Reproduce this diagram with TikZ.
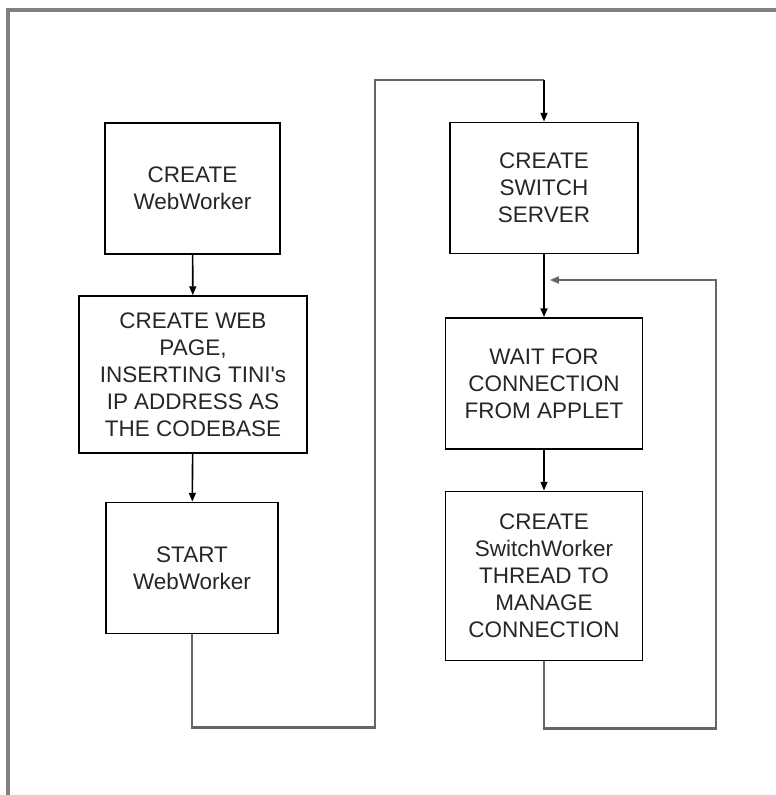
\documentclass[tikz,border=0pt]{standalone}
\usepackage{fontspec}
\setmainfont{Liberation Sans}
\usepackage{tikz}
\usetikzlibrary{arrows.meta, calc}
\tikzset{%
    stepbox/.style={%
        rectangle,
        draw=black, line width=1.1pt,
        fill=white,
        inner sep=0pt,
        align=center,
        text=black!85,
        font=\fontsize{12.8}{15.3}\selectfont,
        minimum height=2.62cm,
    },
    edge/.style={%
        draw=black, line width=0.9pt,
        -{Triangle[length=5pt, width=4pt]},
    },
    loopline/.style={%
        draw=black!60, line width=1.7pt,
    },
    frame/.style={%
        draw=black!50, line width=2.3pt,
    },
}

\begin{document}
\begin{tikzpicture}[x=0.02cm, y=-0.02cm]
	\useasboundingbox (0,0) rectangle (776,795);
	% \draw[help lines] (0,0) grid (776,795);
	\draw[frame] (8,795) -- (8,10) -- (776,10);

	% left column
	\node [stepbox, minimum width=3.5cm] at (192.5,188.5) (mkweb) {CREATE\\WebWorker};
	\node [stepbox, minimum width=4.56cm, minimum height=3.14cm] at (193,374.5) (mkpage) {CREATE WEB\\PAGE,\\INSERTING TINI\textquotesingle s\\IP ADDRESS AS\\THE CODEBASE};
	\node [stepbox, minimum width=3.44cm] at (192,568) (startweb) {START\\WebWorker};

	% right column
	\node [stepbox, minimum width=3.76cm] at (544,188) (mkserver) {CREATE\\SWITCH\\SERVER};
	\node [stepbox, minimum width=3.94cm] at (544,383.5) (waitconn) {WAIT FOR\\CONNECTION\\FROM APPLET};
	\node [stepbox, minimum width=3.94cm, minimum height=3.38cm] at (544,576) (mkworker) {CREATE\\SwitchWorker\\THREAD TO\\MANAGE\\CONNECTION};

	\coordinate (jump_low) at (375,727);
	\coordinate (jump_high) at (375,80);
	\coordinate (loop_low) at (716,728);
	\coordinate (loop_high) at (716,280);
	\coordinate (loop_in) at (550,280);

	\draw[edge] (mkweb) -- (mkpage);
	\draw[edge] (mkpage) -- (startweb);
	\draw[edge] (mkserver) -- (waitconn);
	\draw[edge] (waitconn) -- (mkworker);

	\draw[loopline] (startweb.south) -- (startweb.south |- jump_low) -- (jump_low) -- (jump_high) -- (jump_high -| mkserver.north);
	\draw[edge] (jump_high -| mkserver.north) -- (mkserver.north);

	\draw[loopline] (mkworker.south) -- (mkworker.south |- loop_low) -- (loop_low) -- (loop_high) -- ($(loop_in)+(8,0)$);
	\draw[edge, draw=black!60] ($(loop_in)+(10,0)$) -- (loop_in);
\end{tikzpicture}
\end{document}
